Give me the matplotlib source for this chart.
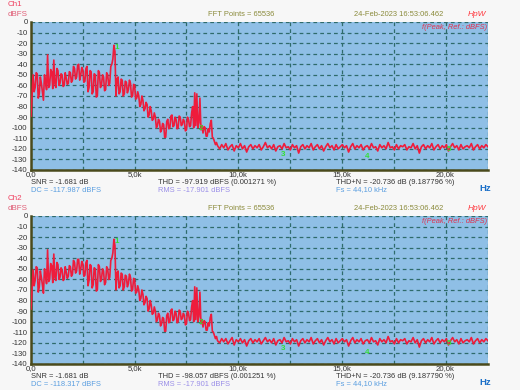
import numpy as np
import matplotlib
matplotlib.use("Agg")
import matplotlib.pyplot as plt

# ---------------- data ----------------
fs_half = 22050
low_step = 50          # Hz, values 0 .. 8950 Hz
floor_start = 9000     # Hz, floor values 9000 .. 22050 Hz

spec_low_ch1 = [
    -89, -70, -50, -66, -62, -48, -49, -72, -68, -52, -58, -66, -74, -50, -56, -64, -31, -62, -60, -45,
    -47, -63, -36, -58, -62, -44, -46, -60, -58, -49, -50, -61, -60, -48, -53, -59, -58, -47, -48, -57,
    -55, -42, -44, -54, -52, -41, -40, -55, -50, -43, -45, -57, -56, -44, -42, -66, -62, -46, -47, -68,
    -66, -49, -50, -71, -70, -46, -48, -62, -60, -50, -52, -65, -64, -48, -50, -60, -58, -42, -40, -35,
    -22, -28, -70, -54, -52, -68, -66, -54, -55, -70, -68, -56, -57, -67, -64, -55, -58, -71, -70, -59,
    -60, -73, -72, -66, -70, -80, -78, -70, -74, -84, -82, -76, -78, -90, -88, -80, -84, -93, -92, -86,
    -90, -100, -98, -92, -94, -104, -102, -96, -97, -109, -109, -94, -92, -101, -100, -89, -88, -99, -98, -90,
    -92, -101, -100, -89, -90, -98, -97, -92, -94, -103, -102, -90, -92, -99, -98, -86, -80, -100, -67, -98,
    -68, -100, -95, -72, -102, -98, -105, -99, -100, -108, -108, -101, -104, -96, -93, -109, -110, -113, -116, -114,
]
spec_floor_ch1 = [
    -117, -120, -116, -119, -115, -121, -118, -116, -122, -117,
    -119, -115, -120, -117, -123, -118, -116, -120, -117, -119,
    -116, -121, -118, -114, -119, -117, -120, -116, -122, -118,
    -117, -120, -115, -119, -118, -121, -116, -119, -117, -124,
    -118, -116, -120, -117, -119, -115, -121, -118, -116, -120,
    -117, -122, -118, -115, -119, -117, -121, -116, -120, -118,
    -116, -119, -117, -123, -118, -115, -120, -117, -119, -116,
    -121, -118, -117, -120, -115, -119, -118, -122, -116, -119,
    -117, -120, -114, -119, -118, -121, -116, -120, -117, -118,
    -116, -121, -118, -119, -115, -120, -117, -124, -118, -116,
    -120, -117, -119, -115, -121, -118, -116, -120, -117, -119,
    -116, -122, -118, -115, -119, -117, -121, -116, -120, -118,
    -117, -119, -115, -121, -118, -116, -120, -117, -119, -116,
    -118,
]
spec_low_ch2 = [
    -88, -70, -51, -66, -61, -48, -49, -72, -67, -52, -58, -65, -73, -50, -56, -64, -32, -62, -60, -45,
    -47, -63, -36, -58, -61, -44, -46, -60, -58, -49, -51, -61, -60, -48, -53, -59, -57, -47, -48, -57,
    -55, -42, -44, -54, -52, -41, -41, -55, -50, -43, -45, -57, -56, -44, -42, -66, -61, -46, -47, -68,
    -65, -49, -50, -71, -70, -46, -48, -62, -60, -50, -52, -65, -63, -48, -50, -60, -58, -42, -40, -35,
    -22, -28, -70, -54, -52, -68, -66, -54, -55, -70, -67, -56, -57, -67, -64, -55, -58, -71, -70, -59,
    -60, -73, -72, -66, -70, -80, -78, -70, -74, -84, -82, -76, -78, -90, -88, -80, -84, -93, -92, -86,
    -90, -100, -98, -92, -94, -104, -102, -96, -97, -109, -109, -94, -92, -101, -100, -89, -88, -99, -98, -90,
    -92, -101, -100, -89, -90, -98, -97, -92, -94, -103, -102, -90, -92, -99, -98, -86, -80, -100, -67, -98,
    -68, -100, -95, -72, -102, -98, -105, -99, -100, -108, -108, -101, -104, -96, -93, -109, -110, -113, -116, -114,
]
spec_floor_ch2 = [
    -118, -120, -116, -119, -116, -121, -118, -115, -122, -117,
    -119, -116, -120, -117, -123, -118, -116, -120, -117, -119,
    -116, -121, -118, -115, -119, -117, -120, -116, -122, -118,
    -117, -120, -115, -119, -118, -121, -116, -119, -117, -123,
    -118, -116, -120, -117, -119, -115, -121, -118, -116, -120,
    -117, -122, -118, -115, -119, -117, -121, -116, -120, -118,
    -116, -119, -117, -123, -118, -115, -120, -117, -119, -116,
    -121, -118, -117, -120, -115, -119, -118, -122, -116, -119,
    -117, -120, -114, -119, -118, -121, -116, -120, -117, -118,
    -116, -121, -118, -119, -115, -120, -117, -124, -118, -116,
    -120, -117, -119, -115, -121, -118, -116, -120, -117, -119,
    -116, -122, -118, -115, -119, -117, -121, -116, -120, -118,
    -117, -119, -115, -121, -118, -116, -120, -117, -119, -116,
    -118,
]

marker_labels = ["1", "2", "3", "4", "5"]
marker_freq = [4150, 8200, 12150, 16200, 20150]
marker_db_ch1 = [-24, -101, -125, -127, -121]
marker_db_ch2 = [-24, -101, -125.5, -129, -121]

xtick_vals = [0, 5000, 10000, 15000, 20000]
xtick_labels = ["0,0", "5,0k", "10,0k", "15,0k", "20,0k"]
ytick_vals = list(range(0, -150, -10))

channels = [
    dict(name="Ch1", low=spec_low_ch1, floor=spec_floor_ch1, mk=marker_db_ch1,
         stats=["SNR = -1.681 dB", "DC = -117.987 dBFS",
                "THD = -97.919 dBFS (0.001271 %)", "RMS = -17.901 dBFS",
                "THD+N = -20.736 dB (9.187796 %)", "Fs = 44,10 kHz"]),
    dict(name="Ch2", low=spec_low_ch2, floor=spec_floor_ch2, mk=marker_db_ch2,
         stats=["SNR = -1.681 dB", "DC = -118.317 dBFS",
                "THD = -98.057 dBFS (0.001251 %)", "RMS = -17.901 dBFS",
                "THD+N = -20.736 dB (9.187790 %)", "Fs = 44,10 kHz"]),
]

# ---------------- style ----------------
plt.rcParams['font.family'] = ['Liberation Sans', 'DejaVu Sans']
W, H = 520, 390
fig = plt.figure(figsize=(W / 100, H / 100), dpi=100)
fig.patch.set_facecolor('#f7f7f7')

BG = '#8fbfe6'
GRID = '#2f6b6b'
TRACE = '#ee1c3c'
OLIVE = '#8a8a3a'
SPINE = '#4a4a1c'
FS = 5.4

def fx(px):
    return px / W

def fy(py):
    return 1 - py / H

ax_left, ax_right = 31, 488
panel_tops = [22, 216]
panel_h = 148

for ch, top in zip(channels, panel_tops):
    bottom = top + panel_h
    ax = fig.add_axes([fx(ax_left), fy(bottom), fx(ax_right - ax_left), panel_h / H])
    ax.set_facecolor(BG)
    f_low = np.arange(len(ch["low"])) * low_step
    f_floor = np.linspace(floor_start, fs_half, len(ch["floor"]))
    freqs = np.concatenate([f_low, f_floor])
    vals = np.array(ch["low"] + ch["floor"], dtype=float)
    ax.set_xlim(0, fs_half)
    ax.set_ylim(-140, 0)
    ax.set_xticks(xtick_vals)
    ax.set_xticklabels(xtick_labels)
    ax.set_xticks(np.arange(2500, fs_half, 5000), minor=True)
    ax.set_yticks(ytick_vals)
    ax.set_yticklabels([str(v) for v in ytick_vals])
    ax.tick_params(which='both', length=0, labelsize=5.6, colors='#333333')
    ax.tick_params(axis='x', pad=1.0)
    ax.tick_params(axis='y', pad=2.5)
    ax.grid(True, which='both', color=GRID, linestyle=(0, (3, 2.5)), linewidth=0.9)
    ax.axvline(fs_half, color=GRID, linestyle=(0, (3, 2.5)), linewidth=0.9)
    for s in ['top', 'right']:
        ax.spines[s].set_visible(False)
    for s in ['left', 'bottom']:
        ax.spines[s].set_color(SPINE)
        ax.spines[s].set_linewidth(1.8)
    ax.plot(freqs, vals, color=TRACE, linewidth=1.2, zorder=3)
    for lab, f, d in zip(marker_labels, marker_freq, ch["mk"]):
        ax.text(f, d, lab, color='#33e033', fontsize=5.8, ha='center', va='center',
                fontweight='bold', zorder=4)
    ax.text(0.998, 0.988, "f(Peak, Ref.: dBFS)", transform=ax.transAxes,
            ha='right', va='top', fontsize=FS, color='#e0304e', style='italic')

    # header texts
    fig.text(fx(8), fy(top - 17), ch["name"], color='#f04060', fontsize=5.8, va='center')
    fig.text(fx(8), fy(top - 7), "dBFS", color='#e06078', fontsize=5.8, va='center')
    fig.text(fx(208), fy(top - 7), "FFT Points = 65536", color=OLIVE, fontsize=FS, va='center')
    fig.text(fx(354), fy(top - 7), "24-Feb-2023 16:53:06.462", color=OLIVE, fontsize=FS, va='center')
    fig.text(fx(468), fy(top - 8), "HpW", color='#ff3a40', fontsize=6.0, va='center',
             style='italic')

    # stats
    st = ch["stats"]
    r1, r2 = bottom + 12.5, bottom + 20
    fig.text(fx(31), fy(r1), st[0], color='#333333', fontsize=FS, va='center')
    fig.text(fx(31), fy(r2), st[1], color='#5a9ee0', fontsize=FS, va='center')
    fig.text(fx(158), fy(r1), st[2], color='#333333', fontsize=FS, va='center')
    fig.text(fx(158), fy(r2), st[3], color='#9a8ee8', fontsize=FS, va='center')
    fig.text(fx(336), fy(r1), st[4], color='#333333', fontsize=FS, va='center')
    fig.text(fx(336), fy(r2), st[5], color='#5a9ee0', fontsize=FS, va='center')
    fig.text(fx(479), fy(bottom + 18.5), "Hz", color='#1a6fc8', fontsize=6.8,
             fontweight='bold', va='center')

fig.savefig("out.png", dpi=100, facecolor=fig.get_facecolor())
